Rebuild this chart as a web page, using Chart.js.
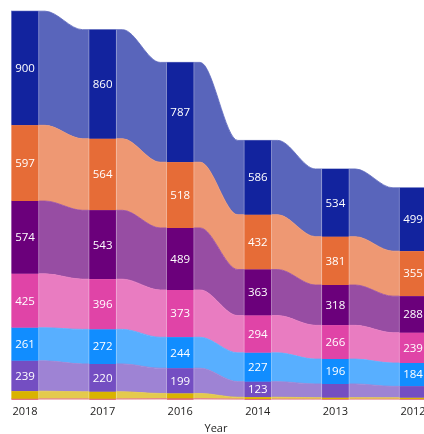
<!DOCTYPE html>
<html>
<head>
<meta charset="utf-8">
<script src="https://cdn.jsdelivr.net/npm/chart.js@4"></script>
<style>
html,body{margin:0;padding:0;background:#fff;overflow:hidden;}
#wrap{width:424px;height:434px;overflow:hidden;position:relative;}
#box{width:432px;height:434px;position:absolute;left:0;top:0;}
</style>
</head>
<body>
<div id="wrap"><div id="box"><canvas id="c"></canvas></div></div>
<script>
// Categories (x axis tick labels)
const years = ['2018', '2017', '2016', '2014', '2013', '2012'];

// Series values, listed bottom to top of each stack
const seriesNames = ['Series H', 'Series G', 'Series F', 'Series E', 'Series D', 'Series C', 'Series B', 'Series A'];
const redValues       = [8, 8, 10, 6, 5, 5];
const yellowValues    = [60, 55, 40, 14, 12, 11];
const violetValues    = [239, 220, 199, 123, 108, 90];
const lightBlueValues = [261, 272, 244, 227, 196, 184];
const pinkValues      = [425, 396, 373, 294, 266, 239];
const purpleValues    = [574, 543, 489, 363, 318, 288];
const orangeValues    = [597, 564, 518, 432, 381, 355];
const darkBlueValues  = [900, 860, 787, 586, 534, 499];

const seriesValues = [redValues, yellowValues, violetValues, lightBlueValues, pinkValues, purpleValues, orangeValues, darkBlueValues];
const seriesColors = ['#D64550', '#D9B300', '#744EC2', '#118DFF', '#E044A7', '#6B007B', '#E66C37', '#12239E'];

function lighten(hex, t) {
  const n = parseInt(hex.slice(1), 16);
  const r = (n >> 16) & 255, g = (n >> 8) & 255, b = n & 255;
  const m = c => Math.round(c * (1 - t) + 255 * t);
  return `rgb(${m(r)},${m(g)},${m(b)})`;
}

const HALF_BAR = 0.1804;   // half bar width in category units
const FLAT = 0.077;        // flat ribbon run beyond bar edge
const last = years.length - 1;

function ribbonPoints(values) {
  const pts = [];
  values.forEach((v, i) => {
    pts.push({x: i - (i === 0 ? HALF_BAR : HALF_BAR + FLAT), y: v});
    pts.push({x: i + (i === last ? HALF_BAR : HALF_BAR + FLAT), y: v});
  });
  return pts;
}

const datasets = [];
seriesValues.forEach((vals, k) => {
  const rc = lighten(seriesColors[k], 0.3);
  datasets.push({
    type: 'line',
    label: seriesNames[k] + ' ribbon',
    data: ribbonPoints(vals),
    stack: 'ribbons',
    order: 2,
    fill: k === 0 ? 'origin' : '-1',
    backgroundColor: rc,
    borderColor: rc,
    borderWidth: 0.8,
    pointRadius: 0,
    tension: 0.4,
    cubicInterpolationMode: 'monotone'
  });
});
seriesValues.forEach((vals, k) => {
  datasets.push({
    type: 'bar',
    label: seriesNames[k],
    data: vals.map((v, i) => ({x: i, y: v})),
    stack: 'bars',
    order: 1,
    backgroundColor: seriesColors[k],
    borderColor: 'rgba(255,255,255,0.35)',
    borderWidth: {left: 1, right: 1, top: 0, bottom: 0},
    borderSkipped: false,
    barThickness: 28
  });
});

const barLabels = {
  id: 'barLabels',
  afterDatasetsDraw(chart) {
    const ctx = chart.ctx;
    ctx.save();
    ctx.font = '11.5px "Open Sans", "Noto Sans", sans-serif';
    ctx.fillStyle = '#ffffff';
    ctx.textAlign = 'center';
    ctx.textBaseline = 'middle';
    chart.data.datasets.forEach((ds, di) => {
      if (ds.type !== 'bar') return;
      const meta = chart.getDatasetMeta(di);
      meta.data.forEach((el, i) => {
        const h = Math.abs(el.base - el.y);
        if (h < 14.5) return;
        ctx.fillText(String(ds.data[i].y), el.x, (el.y + el.base) / 2 + 0.5);
      });
    });
    ctx.restore();
  }
};

new Chart(document.getElementById('c'), {
  data: {datasets},
  options: {
    responsive: true,
    maintainAspectRatio: false,
    animation: false,
    layout: {padding: 0},
    plugins: {legend: {display: false}, tooltip: {enabled: false}},
    scales: {
      x: {
        type: 'linear',
        offset: false,
        min: -0.3222,
        max: 5.2448,
        grid: {display: false, drawTicks: false, offset: false},
        border: {display: false},
        afterBuildTicks: s => { s.ticks = years.map((_, i) => ({value: i})); },
        ticks: {
          autoSkip: false,
          maxRotation: 0,
          padding: 5,
          color: '#252423',
          font: {family: '"Open Sans", "Noto Sans", sans-serif', size: 11},
          callback: v => years[v]
        },
        title: {
          display: true,
          text: 'Year',
          color: '#252423',
          font: {family: '"Open Sans", "Noto Sans", sans-serif', size: 11, lineHeight: 1},
          padding: {top: 0, bottom: 0}
        }
      },
      y: {
        display: false,
        stacked: true,
        min: 0,
        max: 3152
      }
    }
  },
  plugins: [barLabels]
});
</script>
</body>
</html>
